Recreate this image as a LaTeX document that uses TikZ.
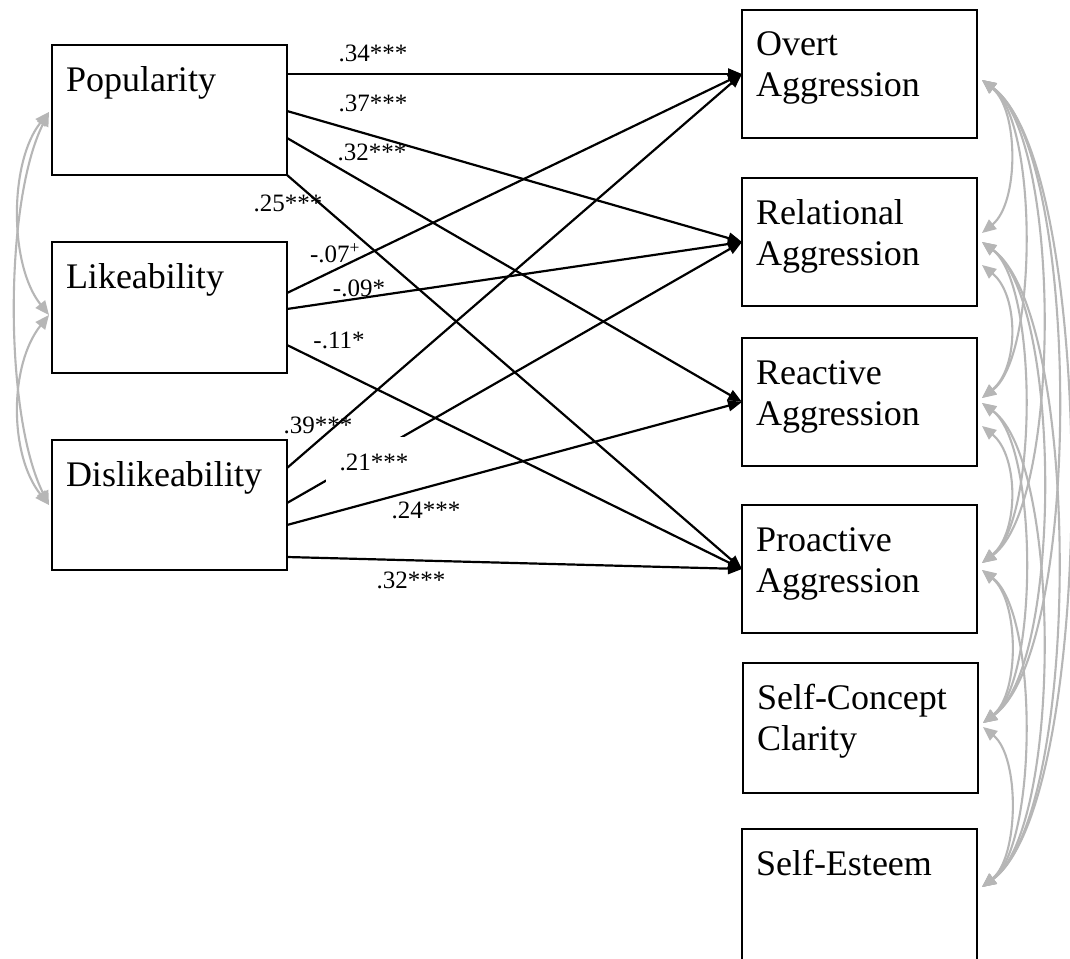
\documentclass[tikz,border=0pt]{standalone}
\usepackage{fontspec}
\setmainfont{Liberation Serif}
\usetikzlibrary{arrows.meta}
\definecolor{corrgray}{RGB}{182,182,182}
\newcommand{\boxtxt}[2]{\parbox[c][#1][t]{207pt}{\rule{0pt}{38pt}#2}}
\tikzset{
  box/.style={draw, line width=2.4pt, inner xsep=14pt, inner ysep=8pt, outer sep=0pt,
    anchor=north west, font=\fontsize{36}{41}\selectfont},
  reg/.style={line width=2.2pt, -{Triangle[length=14pt,width=11pt]}},
  coef/.style={font=\fontsize{25}{28}\selectfont, inner sep=0pt},
  corr/.style={draw=corrgray, line width=2.1pt,
    {Triangle[length=14pt,width=12pt]}-{Triangle[length=14pt,width=12pt]}},
}
\begin{document}
\begin{tikzpicture}[x=1pt,y=-1pt]
\useasboundingbox (0,0) rectangle (1070,958);
\clip (0,0) rectangle (1070,958);
\fill[white] (0,0) rectangle (1070,958);

% predictor boxes
\node[box] (pop) at (52,45)  {\boxtxt{114pt}{Popularity}};
\node[box] (lik) at (52,242) {\boxtxt{115pt}{Likeability}};
\node[box] (dis) at (52,440) {\boxtxt{114pt}{Dislikeability}};

% outcome boxes
\node[box] (ov) at (742,10)  {\boxtxt{112pt}{Overt\\Aggression}};
\node[box] (re) at (742,178) {\boxtxt{112pt}{Relational\\Aggression}};
\node[box] (rc) at (742,338) {\boxtxt{112pt}{Reactive\\Aggression}};
\node[box] (pr) at (742,505) {\boxtxt{112pt}{Proactive\\Aggression}};
\node[box] (sc) at (743,663) {\boxtxt{114pt}{Self-Concept\\Clarity}};
\node[box] (se) at (742,829) {\boxtxt{160pt}{Self-Esteem}};

% path with occluding label first
\draw[reg] ([yshift=-63pt]dis.north east) -- (re.west);
\node[coef, fill=white, minimum width=96pt, minimum height=50pt] (c21) at (374,462) {.21***};

% regression paths
\draw[reg] ([yshift=-29pt]pop.north east) -- (ov.west);
\draw[reg] ([yshift=-66pt]pop.north east) -- (re.west);
\draw[reg] ([yshift=-93pt]pop.north east) -- (rc.west);
\draw[reg] (pop.south east) -- (pr.west);
\draw[reg] ([yshift=-51pt]lik.north east) -- (ov.west);
\draw[reg] ([yshift=-67pt]lik.north east) -- (re.west);
\draw[reg] ([yshift=-103pt]lik.north east) -- (pr.west);
\draw[reg] ([yshift=-28pt]dis.north east) -- (ov.west);
\draw[reg] ([yshift=-85pt]dis.north east) -- (rc.west);
\draw[reg] ([yshift=-117pt]dis.north east) -- (pr.west);

% coefficient labels
\node[coef] (c34) at (373,53)  {.34***};
\node[coef] (c37) at (373,103) {.37***};
\node[coef] (c32a) at (372,152) {.32***};
\node[coef] (c25) at (288,203) {.25***};
\node[coef] (c07) at (335,253) {-.07\textsuperscript{+}};
\node[coef] (c09) at (359,288) {-.09*};
\node[coef] (c11) at (339,340) {-.11*};
\node[coef] (c39) at (318,425) {.39***};
\node[coef] (c24) at (426,510) {.24***};
\node[coef] (c32b) at (411,580) {.32***};

% correlations among predictors
\draw[corr] ([xshift=-3pt,yshift=-67pt]pop.north west) .. controls +(-40,50) and +(-40,-50) .. ([xshift=-3pt,yshift=-73pt]lik.north west);
\draw[corr] ([xshift=-3pt,yshift=-67pt]pop.north west) .. controls +(-45,90) and +(-45,-90) .. ([xshift=-3pt,yshift=-65pt]dis.north west);
\draw[corr] ([xshift=-3pt,yshift=-73pt]lik.north west) .. controls +(-40,50) and +(-40,-50) .. ([xshift=-3pt,yshift=-65pt]dis.north west);

% correlations among outcomes
% span 1
\draw[corr] ([xshift=5pt,yshift=-70pt]ov.north east) .. controls +(37,30) and +(37,-30) .. ([xshift=5pt,yshift=-55pt]re.north east);
\draw[corr] ([xshift=5pt,yshift=-87pt]re.north east) .. controls +(37,30) and +(37,-30) .. ([xshift=5pt,yshift=-60pt]rc.north east);
\draw[corr] ([xshift=5pt,yshift=-88pt]rc.north east) .. controls +(37,30) and +(37,-30) .. ([xshift=5pt,yshift=-58pt]pr.north east);
\draw[corr] ([xshift=5pt,yshift=-65pt]pr.north east) .. controls +(37,30) and +(37,-30) .. ([xshift=5pt,yshift=-60pt]sc.north east);
\draw[corr] ([xshift=5pt,yshift=-64pt]sc.north east) .. controls +(37,30) and +(37,-30) .. ([xshift=5pt,yshift=-58pt]se.north east);
% span 2
\draw[corr] ([xshift=5pt,yshift=-70pt]ov.north east) .. controls +(56,42) and +(56,-42) .. ([xshift=5pt,yshift=-60pt]rc.north east);
\draw[corr] ([xshift=5pt,yshift=-64pt]re.north east) .. controls +(56,42) and +(56,-42) .. ([xshift=5pt,yshift=-58pt]pr.north east);
\draw[corr] ([xshift=5pt,yshift=-65pt]rc.north east) .. controls +(56,42) and +(56,-42) .. ([xshift=5pt,yshift=-60pt]sc.north east);
\draw[corr] ([xshift=5pt,yshift=-65pt]pr.north east) .. controls +(56,42) and +(56,-42) .. ([xshift=5pt,yshift=-58pt]se.north east);
% span 3
\draw[corr] ([xshift=5pt,yshift=-70pt]ov.north east) .. controls +(80,58) and +(80,-58) .. ([xshift=5pt,yshift=-58pt]pr.north east);
\draw[corr] ([xshift=5pt,yshift=-64pt]re.north east) .. controls +(80,58) and +(80,-58) .. ([xshift=5pt,yshift=-60pt]sc.north east);
\draw[corr] ([xshift=5pt,yshift=-65pt]rc.north east) .. controls +(80,58) and +(80,-58) .. ([xshift=5pt,yshift=-58pt]se.north east);
% span 4
\draw[corr] ([xshift=5pt,yshift=-70pt]ov.north east) .. controls +(100,72) and +(100,-72) .. ([xshift=5pt,yshift=-60pt]sc.north east);
\draw[corr] ([xshift=5pt,yshift=-64pt]re.north east) .. controls +(100,72) and +(100,-72) .. ([xshift=5pt,yshift=-58pt]se.north east);
% span 5
\draw[corr] ([xshift=5pt,yshift=-70pt]ov.north east) .. controls +(116,85) and +(116,-85) .. ([xshift=5pt,yshift=-58pt]se.north east);
\end{tikzpicture}
\end{document}
